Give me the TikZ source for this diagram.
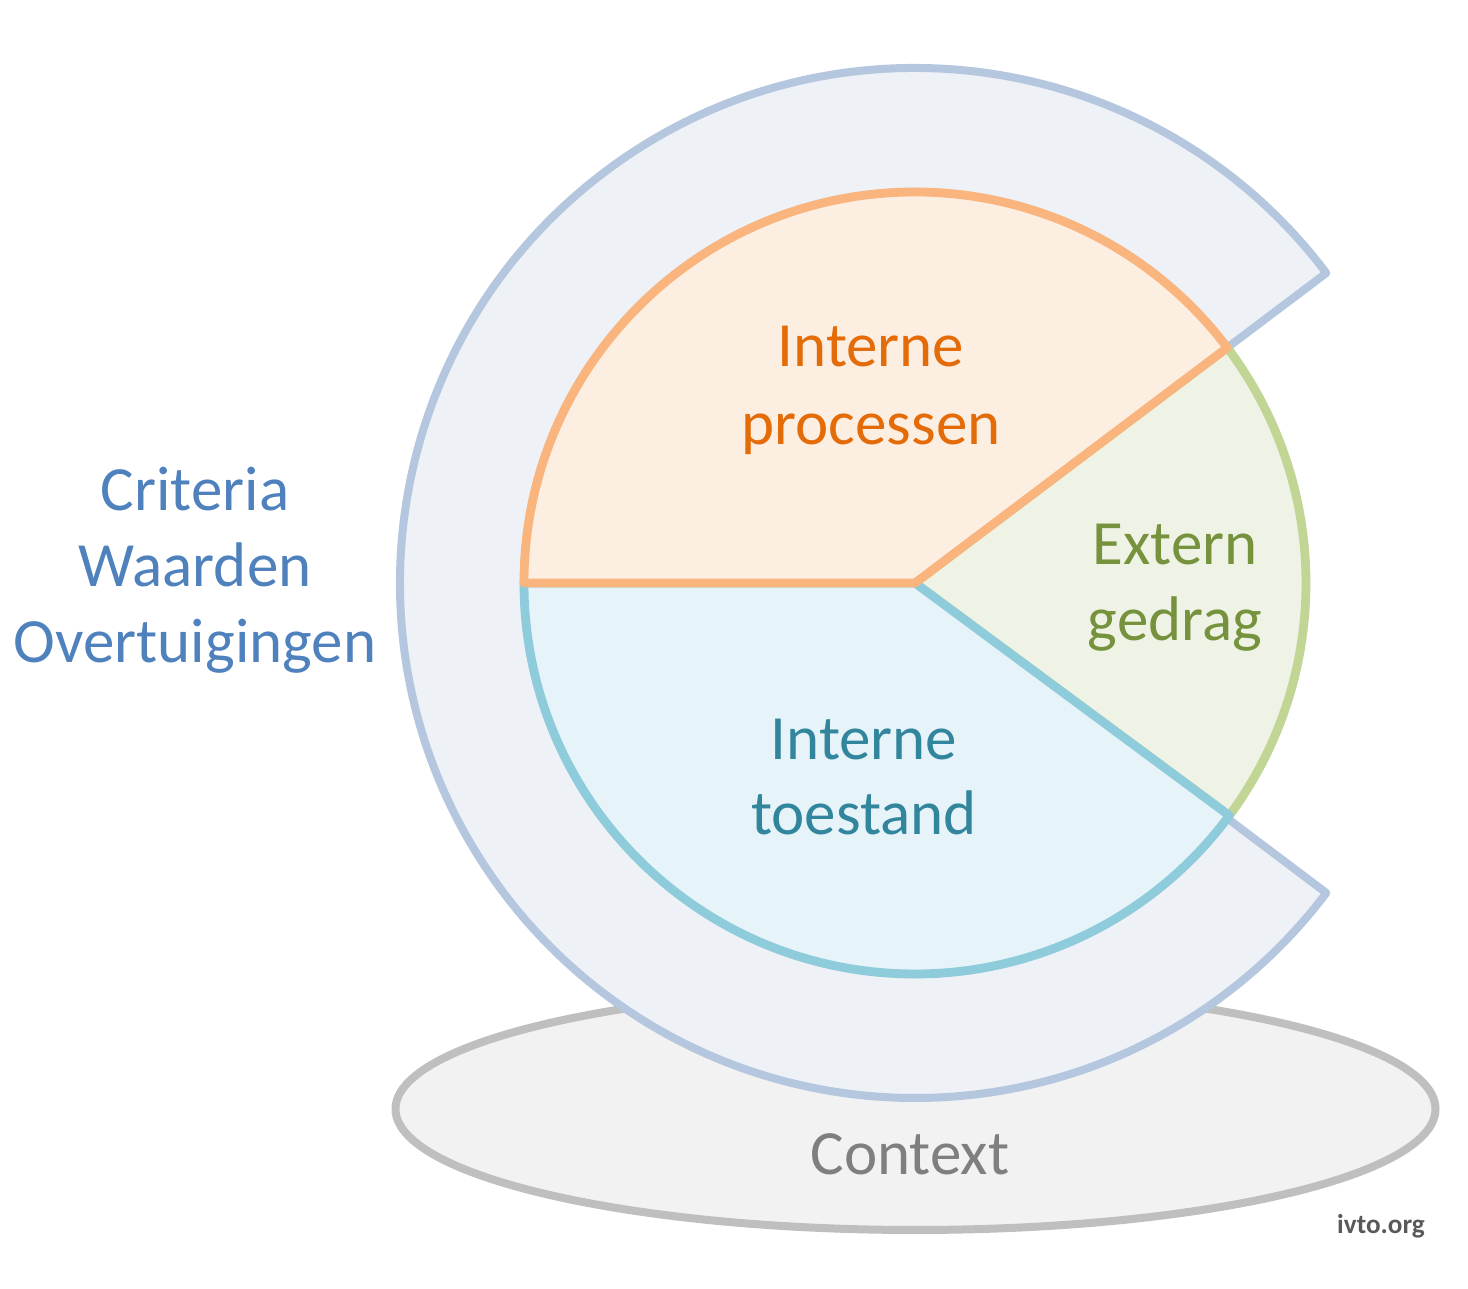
\documentclass[tikz,border=0pt]{standalone}
\usepackage{fontspec}
\setmainfont{Carlito}
\definecolor{ringfill}{HTML}{EEF1F6}
\definecolor{ringline}{HTML}{B4C7DF}
\definecolor{orfill}{HTML}{FDEEE2}
\definecolor{orline}{HTML}{F9B57D}
\definecolor{ortext}{HTML}{E36C09}
\definecolor{blfill}{HTML}{E6F3F8}
\definecolor{blline}{HTML}{8ECCDC}
\definecolor{bltext}{HTML}{31859C}
\definecolor{grfill}{HTML}{EFF3E6}
\definecolor{grline}{HTML}{C1D595}
\definecolor{grtext}{HTML}{76923C}
\definecolor{crtext}{HTML}{4F81BD}
\definecolor{ctfill}{HTML}{F2F2F2}
\definecolor{ctline}{HTML}{BFBFBF}
\definecolor{cttext}{HTML}{7F7F7F}
\definecolor{logotext}{HTML}{595959}
\tikzset{
  shapeline/.style={line width=4pt, line join=round},
  pieline/.style={line width=4.4pt, line join=round},
  bigtext/.style={font=\fontsize{31.5}{38.4}\selectfont, anchor=base, inner sep=0pt},
}
\begin{document}
\begin{tikzpicture}[x=0.5pt,y=0.5pt]
\useasboundingbox (0,0) rectangle (1468,1289);
% context ellipse
\draw[shapeline, fill=ctfill, draw=ctline] (915.5,180) ellipse[x radius=520, y radius=121];
\begin{scope}[shift={(915,706)}]
  % outer C ring
  \draw[shapeline, fill=ringfill, draw=ringline]
    (37:391) -- (37:515) arc[start angle=37, end angle=323, radius=515]
    -- (323:391) arc[start angle=323, end angle=37, radius=391] -- cycle;
  % green sector
  \draw[pieline, fill=grfill, draw=grline]
    (0,0) -- (-36.5:391) arc[start angle=-36.5, end angle=37, radius=391] -- cycle;
  % blue sector
  \draw[pieline, fill=blfill, draw=blline]
    (0,0) -- (180:391) arc[start angle=180, end angle=323.5, radius=391] -- cycle;
  % orange sector
  \draw[pieline, fill=orfill, draw=orline]
    (0,0) -- (180:391) arc[start angle=180, end angle=37, radius=391] -- cycle;
\end{scope}
% texts
\node[bigtext, text=ortext] (ip1) at (871,922) {Interne};
\node[bigtext, text=ortext] (ip2) at (871,844) {processen};
\node[bigtext, text=grtext] (eg1) at (1175,724) {Extern};
\node[bigtext, text=grtext] (eg2) at (1175,648) {gedrag};
\node[bigtext, text=bltext] (it1) at (864,529) {Interne};
\node[bigtext, text=bltext] (it2) at (864,454) {toestand};
\node[bigtext, text=crtext] (cw1) at (195,778) {Criteria};
\node[bigtext, text=crtext] (cw2) at (195,702) {Waarden};
\node[bigtext, text=crtext] (cw3) at (195,626) {Overtuigingen};
\node[bigtext, text=cttext] (ctx) at (910,114) {Context};
\node[font=\fontsize{13.6}{16}\selectfont\bfseries, text=logotext, anchor=base, inner sep=0pt] (logo) at (1381,55) {ivto.org};
\end{tikzpicture}
\end{document}
